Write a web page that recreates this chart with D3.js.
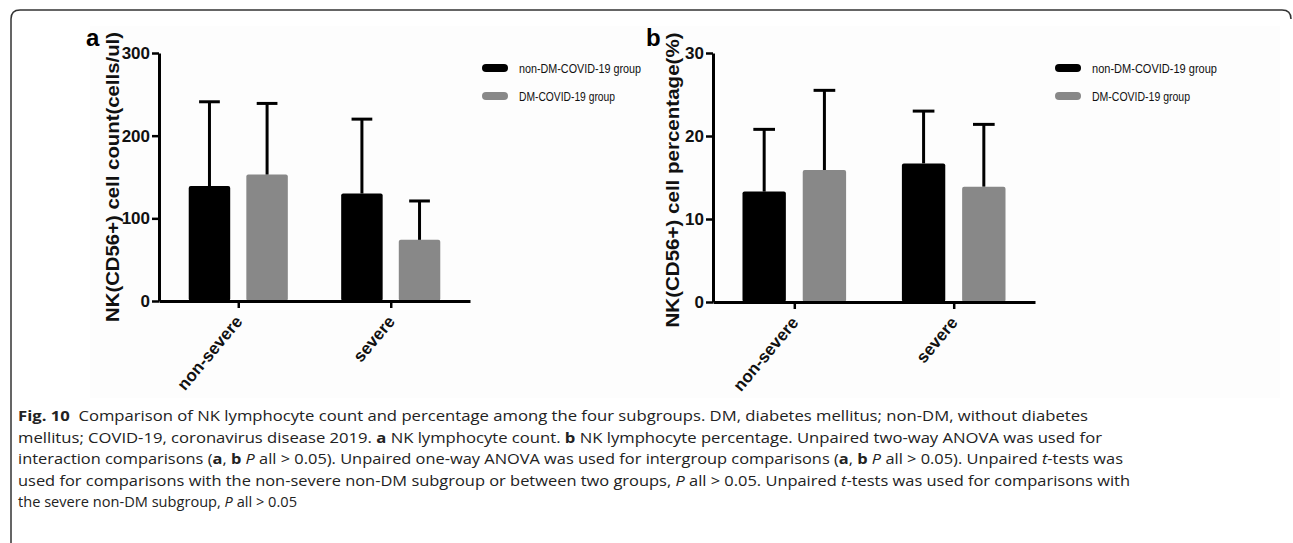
<!DOCTYPE html>
<html>
<head>
<meta charset="utf-8">
<script src="https://cdn.jsdelivr.net/npm/d3@7"></script>
<style>
  html, body { margin: 0; padding: 0; background: #fff; }
  svg { display: block; }
</style>
</head>
<body>
<svg id="fig" width="1293" height="543"></svg>
<script>
// DATA
const categories = ['non-severe', 'severe'];
const groups = ['non-DM-COVID-19 group', 'DM-COVID-19 group'];
const groupColors = ['#000000', '#888888'];

// panel a: NK count (cells/ul), mean and SD
const nonDmCount = [139, 130];
const dmCount = [153, 74];
const nonDmCountSd = [102, 90];
const dmCountSd = [86, 47];
const countTicks = [0, 100, 200, 300];

// panel b: NK percentage, mean and SD
const nonDmPct = [13.3, 16.7];
const dmPct = [15.9, 13.9];
const nonDmPctSd = [7.5, 6.3];
const dmPctSd = [9.6, 7.5];
const pctTicks = [0, 10, 20, 30];

const svg = d3.select('#fig');

// frame round the figure
svg.append('path')
  .attr('d', 'M11,543 L11,19 Q11,10 20,10 L1282,10 Q1291,10 1291,19')
  .attr('fill', 'none')
  .attr('stroke', '#333')
  .attr('stroke-width', 1.5);

svg.append('rect')
  .attr('x', 90).attr('y', 26).attr('width', 1190).attr('height', 372)
  .attr('fill', '#fdfdfd');

const boldFont = '"Liberation Sans", Arial, sans-serif';
const narrowFont = '"Liberation Sans Narrow", "Arial Narrow", "Liberation Sans", Arial, sans-serif';

const drawPanel = (opt) => {
  const g = svg.append('g');
  const y = d3.scaleLinear().domain([0, opt.ticks[opt.ticks.length - 1]]).range([opt.y0, opt.y1]);
  const x = d3.scalePoint().domain(categories).range([opt.x0, opt.x1]).padding(opt.pad);
  const inner = d3.scaleBand().domain(groups)
    .range([-x.step() * 0.325, x.step() * 0.325]).paddingInner(0.28);

  const series = [
    { name: groups[0], mean: opt.a, sd: opt.aSd, color: groupColors[0] },
    { name: groups[1], mean: opt.b, sd: opt.bSd, color: groupColors[1] }
  ];

  // bars
  series.forEach(s => {
    const bars = g.append('g');
    bars.selectAll('rect').data(categories).enter().append('rect')
      .attr('x', (c) => x(c) + inner(s.name))
      .attr('y', (c, i) => y(s.mean[i]))
      .attr('width', inner.bandwidth())
      .attr('height', (c, i) => y(0) - y(s.mean[i]))
      .attr('rx', 2)
      .attr('fill', s.color);

    // error bars (upper only)
    const cap = inner.bandwidth() * 0.5;
    bars.selectAll('line.err').data(categories).enter().append('line')
      .attr('class', 'err')
      .attr('x1', (c) => x(c) + inner(s.name) + inner.bandwidth() / 2)
      .attr('x2', (c) => x(c) + inner(s.name) + inner.bandwidth() / 2)
      .attr('y1', (c, i) => y(s.mean[i]))
      .attr('y2', (c, i) => y(s.mean[i] + s.sd[i]))
      .attr('stroke', '#000').attr('stroke-width', 3);
    bars.selectAll('line.cap').data(categories).enter().append('line')
      .attr('class', 'cap')
      .attr('x1', (c) => x(c) + inner(s.name) + inner.bandwidth() / 2 - cap / 2)
      .attr('x2', (c) => x(c) + inner(s.name) + inner.bandwidth() / 2 + cap / 2)
      .attr('y1', (c, i) => y(s.mean[i] + s.sd[i]))
      .attr('y2', (c, i) => y(s.mean[i] + s.sd[i]))
      .attr('stroke', '#000').attr('stroke-width', 3);
  });

  // y axis
  const yAxis = g.append('g')
    .attr('transform', `translate(${opt.x0},0)`)
    .call(d3.axisLeft(y).tickValues(opt.ticks).tickSize(7).tickSizeOuter(0).tickPadding(2));
  yAxis.select('.domain').attr('stroke', '#000').attr('stroke-width', 3);
  yAxis.selectAll('.tick line').attr('stroke', '#000').attr('stroke-width', 2.5);
  yAxis.selectAll('.tick text')
    .attr('font-family', narrowFont).attr('font-weight', 'bold')
    .attr('font-size', 17).attr('fill', '#111');

  // x axis
  const xAxis = g.append('g')
    .attr('transform', `translate(0,${opt.y0})`)
    .call(d3.axisBottom(x).tickSize(7).tickSizeOuter(0).tickFormat(''));
  xAxis.select('.domain').attr('stroke', '#000').attr('stroke-width', 3);
  xAxis.selectAll('.tick line').attr('stroke', '#000').attr('stroke-width', 2.5);

  g.selectAll('text.cat').data(categories).enter().append('text')
    .attr('class', 'cat')
    .attr('transform', (c) => `translate(${x(c) + 5},${opt.y0 + 21}) rotate(-50)`)
    .attr('text-anchor', 'end')
    .attr('font-family', boldFont).attr('font-weight', 'bold')
    .attr('font-size', 17).attr('fill', '#111')
    .text((c) => c);

  // y title
  g.append('text')
    .attr('transform', `translate(${opt.titleX},${opt.titleY}) rotate(-90)`)
    .attr('text-anchor', 'middle')
    .attr('dominant-baseline', 'central')
    .attr('font-family', boldFont).attr('font-weight', 'bold')
    .attr('font-size', 18).attr('fill', '#111')
    .attr('textLength', opt.titleLen).attr('lengthAdjust', 'spacingAndGlyphs')
    .text(opt.title);

  // panel letter
  g.append('text')
    .attr('x', opt.letterX).attr('y', 46)
    .attr('font-family', boldFont).attr('font-weight', 'bold')
    .attr('font-size', 24).attr('fill', '#000')
    .text(opt.letter);

  // legend
  const leg = g.append('g');
  series.forEach((s, i) => {
    leg.append('rect')
      .attr('x', opt.legX).attr('y', 64 + i * 28)
      .attr('width', 26).attr('height', 8).attr('rx', 4)
      .attr('fill', s.color);
    leg.append('text')
      .attr('x', opt.legX + 37).attr('y', 73 + i * 28)
      .attr('font-family', narrowFont).attr('font-size', 13).attr('fill', '#111')
      .attr('textLength', opt.legLen[i]).attr('lengthAdjust', 'spacingAndGlyphs')
      .text(s.name);
  });
};

drawPanel({
  letter: 'a', letterX: 86,
  x0: 159, x1: 470, y0: 301, y1: 53, pad: 0.52,
  ticks: countTicks,
  a: nonDmCount, b: dmCount, aSd: nonDmCountSd, bSd: dmCountSd,
  title: 'NK(CD56+) cell count(cells/ul)', titleX: 113, titleY: 177, titleLen: 290,
  legX: 482, legLen: [122, 96]
});

drawPanel({
  letter: 'b', letterX: 646,
  x0: 713, x1: 1035, y0: 302, y1: 53, pad: 0.51,
  ticks: pctTicks,
  a: nonDmPct, b: dmPct, aSd: nonDmPctSd, bSd: dmPctSd,
  title: 'NK(CD56+) cell percentage(%)', titleX: 673, titleY: 180, titleLen: 295,
  legX: 1055, legLen: [125, 98]
});

// caption
const captionLines = [
  { len: 1070, parts: [['Fig. 10', 'b'], ['  Comparison of NK lymphocyte count and percentage among the four subgroups. DM, diabetes mellitus; non-DM, without diabetes', '']] },
  { len: 1084, parts: [['mellitus; COVID-19, coronavirus disease 2019. ', ''], ['a', 'b'], [' NK lymphocyte count. ', ''], ['b', 'b'], [' NK lymphocyte percentage. Unpaired two-way ANOVA was used for', '']] },
  { len: 1105, parts: [['interaction comparisons (', ''], ['a', 'b'], [', ', ''], ['b', 'b'], [' ', ''], ['P', 'i'], [' all > 0.05). Unpaired one-way ANOVA was used for intergroup comparisons (', ''], ['a', 'b'], [', ', ''], ['b', 'b'], [' ', ''], ['P', 'i'], [' all > 0.05). Unpaired ', ''], ['t', 'i'], ['-tests was', '']] },
  { len: 1112, parts: [['used for comparisons with the non-severe non-DM subgroup or between two groups, ', ''], ['P', 'i'], [' all > 0.05. Unpaired ', ''], ['t', 'i'], ['-tests was used for comparisons with', '']] },
  { len: 279, parts: [['the severe non-DM subgroup, ', ''], ['P', 'i'], [' all > 0.05', '']] }
];

const caption = svg.append('g');
captionLines.forEach((line, i) => {
  const t = caption.append('text')
    .attr('x', 18).attr('y', 421 + i * 21.5)
    .attr('font-family', '"Open Sans", "Noto Sans", sans-serif')
    .attr('font-size', 14.5).attr('fill', '#222')
    .attr('xml:space', 'preserve')
    .style('white-space', 'pre')
    .attr('textLength', line.len).attr('lengthAdjust', 'spacingAndGlyphs');
  line.parts.forEach(p => {
    t.append('tspan')
      .attr('font-weight', p[1] === 'b' ? 'bold' : 'normal')
      .attr('font-style', p[1] === 'i' ? 'italic' : 'normal')
      .text(p[0]);
  });
});
</script>
</body>
</html>
